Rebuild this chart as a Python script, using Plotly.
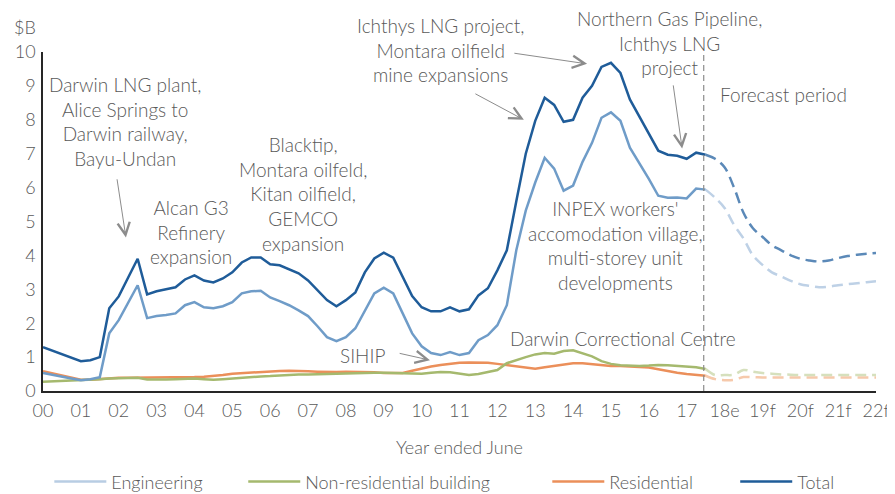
import plotly.graph_objects as go

# quarterly positions, in years since June 2000
hist_x = [q / 4 for q in range(71)]        # 00 .. 17.5
fc_x = [q / 4 for q in range(70, 89)]      # 17.5 .. 22

tick_vals = list(range(23))
tick_text = ['00', '01', '02', '03', '04', '05', '06', '07', '08', '09', '10',
             '11', '12', '13', '14', '15', '16', '17', '18e', '19f', '20f', '21f', '22f']

total = [1.29, 1.19, 1.08, 0.97, 0.88, 0.91, 1.0, 2.44, 2.79, 3.35, 3.9, 2.85,
         2.94, 3.0, 3.06, 3.29, 3.41, 3.26, 3.2, 3.32, 3.5, 3.79, 3.94, 3.94,
         3.74, 3.71, 3.59, 3.47, 3.26, 2.97, 2.68, 2.5, 2.68, 2.91, 3.5, 3.91,
         4.08, 3.93, 3.35, 2.8, 2.47, 2.35, 2.35, 2.47, 2.35, 2.41, 2.82, 3.03,
         3.56, 4.15, 5.6, 7.0, 7.97, 8.65, 8.44, 7.94, 8.0, 8.65, 9.0, 9.56,
         9.68, 9.38, 8.6, 8.1, 7.62, 7.09, 6.97, 6.94, 6.85, 7.03, 6.97]
engineering = [0.53, 0.47, 0.42, 0.37, 0.32, 0.35, 0.41, 1.7, 2.09, 2.59, 3.12, 2.15,
               2.21, 2.24, 2.29, 2.53, 2.62, 2.47, 2.44, 2.5, 2.62, 2.88, 2.94, 2.96,
               2.76, 2.65, 2.53, 2.38, 2.21, 1.91, 1.59, 1.47, 1.59, 1.85, 2.38, 2.88,
               3.05, 2.88, 2.29, 1.7, 1.32, 1.12, 1.06, 1.15, 1.06, 1.12, 1.5, 1.65,
               1.94, 2.53, 4.15, 5.32, 6.15, 6.88, 6.56, 5.91, 6.06, 6.76, 7.32, 8.06,
               8.22, 7.97, 7.18, 6.74, 6.26, 5.76, 5.7, 5.71, 5.68, 5.97, 5.94]
non_residential = [0.27, 0.28, 0.29, 0.3, 0.31, 0.33, 0.35, 0.37, 0.38, 0.38, 0.39, 0.34,
                   0.33, 0.34, 0.35, 0.36, 0.37, 0.35, 0.33, 0.35, 0.37, 0.4, 0.43, 0.43,
                   0.44, 0.46, 0.47, 0.49, 0.49, 0.5, 0.51, 0.52, 0.52, 0.53, 0.54, 0.54,
                   0.54, 0.53, 0.52, 0.51, 0.51, 0.54, 0.56, 0.55, 0.5, 0.47, 0.5, 0.55,
                   0.62, 0.82, 0.92, 1.0, 1.08, 1.12, 1.1, 1.18, 1.2, 1.12, 1.02, 0.88,
                   0.8, 0.76, 0.74, 0.74, 0.75, 0.77, 0.76, 0.74, 0.72, 0.7, 0.65]
residential = [0.58, 0.52, 0.46, 0.39, 0.33, 0.33, 0.35, 0.38, 0.39, 0.39, 0.39, 0.4,
               0.41, 0.41, 0.41, 0.41, 0.41, 0.42, 0.44, 0.47, 0.51, 0.53, 0.55, 0.56,
               0.57, 0.59, 0.6, 0.58, 0.58, 0.57, 0.56, 0.56, 0.57, 0.57, 0.56, 0.55,
               0.53, 0.53, 0.53, 0.6, 0.67, 0.72, 0.77, 0.81, 0.83, 0.84, 0.84, 0.83,
               0.8, 0.77, 0.74, 0.7, 0.66, 0.7, 0.74, 0.78, 0.82, 0.82, 0.79, 0.76,
               0.74, 0.74, 0.73, 0.71, 0.69, 0.64, 0.58, 0.54, 0.5, 0.47, 0.45]

# forecast period
total_fc = [6.97, 6.85, 6.6, 6.0, 5.26, 4.8, 4.55, 4.3, 4.15, 4.0, 3.9, 3.85,
            3.82, 3.85, 3.92, 3.98, 4.02, 4.05, 4.07]
engineering_fc = [5.94, 5.7, 5.4, 4.9, 4.5, 4.0, 3.72, 3.5, 3.38, 3.25, 3.15, 3.1,
                  3.06, 3.08, 3.12, 3.15, 3.18, 3.21, 3.24]
non_residential_fc = [0.65, 0.47, 0.47, 0.48, 0.62, 0.57, 0.53, 0.51, 0.49, 0.48, 0.47, 0.47,
                      0.47, 0.47, 0.47, 0.47, 0.47, 0.47, 0.47]
residential_fc = [0.45, 0.35, 0.32, 0.33, 0.41, 0.41, 0.4, 0.4, 0.4, 0.4, 0.4, 0.4,
                  0.4, 0.4, 0.4, 0.4, 0.4, 0.4, 0.4]

forecast_start = 17.45

colors = {
    'eng': '#6f9cc8', 'eng_fc': '#bed1e6', 'eng_leg': '#b8cde3',
    'nonres': '#a5b96e', 'nonres_fc': '#d6e0bd',
    'res': '#eb8f5a', 'res_fc': '#f6c9ab',
    'total': '#1f5c99', 'total_fc': '#5b89b8',
    'text': '#595959', 'arrow': '#8c8c8c',
}
FONT = 'Lato, "Open Sans", sans-serif'

fig = go.Figure()

# history, solid
for y, c in [(residential, colors['res']), (non_residential, colors['nonres']),
             (engineering, colors['eng']), (total, colors['total'])]:
    fig.add_trace(go.Scatter(x=hist_x, y=y, mode='lines', showlegend=False,
                             line=dict(color=c, width=2.5)))

# forecast, dashed
for y, c in [(residential_fc, colors['res_fc']), (non_residential_fc, colors['nonres_fc']),
             (engineering_fc, colors['eng_fc']), (total_fc, colors['total_fc'])]:
    fig.add_trace(go.Scatter(x=fc_x, y=y, mode='lines', showlegend=False,
                             line=dict(color=c, width=2.5, dash='11px,6px', shape='spline')))

# legend entries, one legend box each so they sit where the original has them
legend_items = [('Engineering', colors['eng_leg'], 'legend', 0.0076),
                ('Non-residential building', colors['nonres'], 'legend2', 0.2404),
                ('Residential', colors['res'], 'legend3', 0.6054),
                ('Total', colors['total'], 'legend4', 0.831)]
legend_boxes = {}
for name, c, lg, lx in legend_items:
    fig.add_trace(go.Scatter(x=[None], y=[None], mode='lines', name=name, legend=lg,
                             line=dict(color=c, width=2.5)))
    legend_boxes[lg] = dict(orientation='h', x=lx, xanchor='left', y=-0.268, yanchor='middle',
                            font=dict(size=18, family=FONT, weight=300, color=colors['text']),
                            itemwidth=52, bgcolor='rgba(0,0,0,0)')

fig.add_vline(x=forecast_start, line=dict(color='#8c8c8c', width=1.2, dash='6px,4px'))

notes = [
    ('Darwin LNG plant,<br>Alice Springs to<br>Darwin railway,<br>Bayu-Undan', 2.17, 7.96),
    ('Alcan G3<br>Refinery<br>expansion', 3.91, 4.68),
    ('Blacktip,<br>Montara oilfeld,<br>Kitan oilfield,<br>GEMCO<br>expansion', 6.87, 5.81),
    ('Forecast period', 19.55, 8.76),
    ("INPEX workers'<br>accomodation village,<br>multi-storey unit<br>developments", 15.13, 4.28),
    ('Darwin Correctional Centre', 15.32, 1.56),
    ('SIHIP', 8.45, 1.06),
]
for text, x, y in notes:
    fig.add_annotation(x=x, y=y, xref='x', yref='y', text=text, showarrow=False,
                       font=dict(size=19, color=colors['text'], family=FONT, weight=300),
                       align='center', xanchor='center', yanchor='middle')

# notes above the plot area (paper coords, data refs would be hidden)
top_notes = [
    ('Ichthys LNG project,<br>Montara oilfield<br>mine expansions', 0.4766, 1.006),
    ('Northern Gas Pipeline,<br>Ichthys LNG<br>project', 0.7527, 1.028),
]
for text, x, y in top_notes:
    fig.add_annotation(x=x, y=y, xref='paper', yref='paper', text=text, showarrow=False,
                       font=dict(size=19, color=colors['text'], family=FONT, weight=300),
                       align='center', xanchor='center', yanchor='middle')

fig.add_annotation(x=0, y=1, xref='paper', yref='paper', text='$B', showarrow=False,
                   xshift=-18, yshift=25, xanchor='center', yanchor='middle',
                   font=dict(size=18, color=colors['text'], family=FONT, weight=300))

# arrows: (tail x, tail y, head x, head y)
arrows = [
    (1.95, 6.29, 2.19, 4.53),
    (12.41, 9.97, 14.37, 9.65),
    (11.38, 8.79, 12.70, 8.0),
    (16.64, 9.06, 16.88, 7.15),
    (9.38, 1.12, 10.22, 0.91),
]
for ax, ay, x, y in arrows:
    fig.add_annotation(x=x, y=y, ax=ax, ay=ay, xref='x', yref='y', axref='x', ayref='y',
                       text='', showarrow=True, arrowhead=5, arrowsize=2.4,
                       arrowwidth=1, arrowcolor=colors['arrow'])

# page body has an 8px margin, so the figure is 8px smaller and margins shifted
fig.update_layout(
    width=887, height=486,
    margin=dict(l=35, r=19, t=44, b=103, autoexpand=False),
    paper_bgcolor='white', plot_bgcolor='white',
    font=dict(family=FONT, size=18, color=colors['text'], weight=300),
    xaxis=dict(range=[0, 22], tickvals=tick_vals, ticktext=tick_text,
               showgrid=False, zeroline=False, showline=True, linecolor='#262626',
               linewidth=1.5, ticks='', tickfont=dict(size=18), ticklabelstandoff=3,
               title=dict(text='Year ended June', font=dict(size=18), standoff=21)),
    yaxis=dict(range=[0, 10], dtick=1, showgrid=False, zeroline=False,
               showline=True, linecolor='#262626', linewidth=1.5, ticks='',
               tickfont=dict(size=18), ticklabelstandoff=2),
    **legend_boxes,
)

fig.write_html('out.html')
